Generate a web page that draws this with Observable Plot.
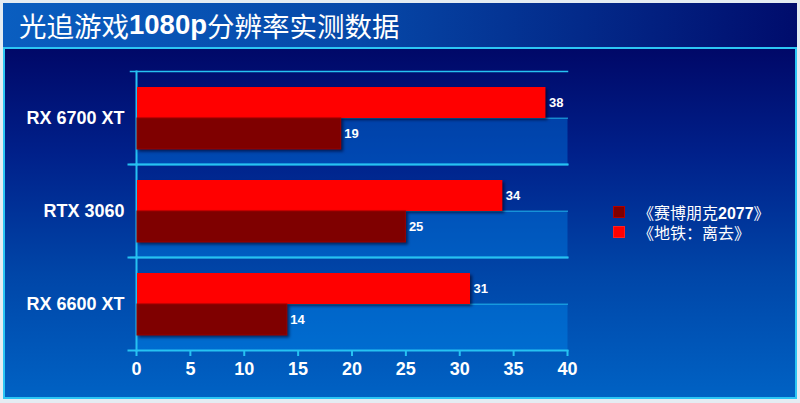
<!DOCTYPE html>
<html>
<head>
<meta charset="utf-8">
<script src="https://cdn.jsdelivr.net/npm/d3@7"></script>
<script src="https://cdn.jsdelivr.net/npm/@observablehq/plot@0.6"></script>
<style>
  html, body { margin: 0; padding: 0; background: #e4ecf2; }
  #wrap { position: relative; width: 800px; height: 403px; overflow: hidden; background: #e4ecf2; font-family: "Liberation Sans", "Noto Sans CJK SC", sans-serif; }
  #titlebar { position: absolute; left: 3px; top: 3px; width: 794px; height: 44px; background: linear-gradient(to right, #0a5ec0 0%, #0648a8 45%, #000c6c 100%); display: flex; align-items: center; box-sizing: border-box; padding-left: 16px; color: #fff; font-size: 27.5px; font-family: "Liberation Sans", "Noto Sans CJK SC", sans-serif; white-space: nowrap; }
  #titlebar b { font-weight: bold; }
  #panel { position: absolute; left: 3px; top: 47px; width: 794px; height: 352px; box-sizing: border-box; border: 2px solid #2cc6f4; background: linear-gradient(to bottom, #000868 0%, #00208a 30%, #0046a8 65%, #0062c4 100%); }
  #chart { position: absolute; left: 0; top: 48px; }
  #legend { position: absolute; left: 613px; top: 202px; color: #fff; font-size: 16px; font-family: "Liberation Sans", "Noto Sans CJK SC", sans-serif; }
  #legend .item { display: flex; align-items: center; height: 20px; }
  #legend .sw { width: 12px; height: 12px; margin-right: 13px; box-sizing: border-box; }
  #legend b { font-weight: bold; }
</style>
</head>
<body>
<div id="wrap">
  <div id="titlebar"></div>
  <div id="panel"></div>
  <div id="chart"></div>
  <div id="legend"></div>
</div>
<script>
// ---- data ----
const title = "光追游戏1080p分辨率实测数据";
const gpus = ["RX 6700 XT", "RTX 3060", "RX 6600 XT"];
const games = ["《地铁：离去》", "《赛博朋克2077》"];   // bar order within a group (top, bottom)
const gameColors = ["#ff0000", "#7f0000"];
const metroFps = [38, 34, 31];
const cyberFps = [19, 25, 14];
const legendOrder = ["《赛博朋克2077》", "《地铁：离去》"];
const xTicks = [0, 5, 10, 15, 20, 25, 30, 35, 40];

// ---- table ----
const rows = [];
gpus.forEach((g, i) => {
  rows.push({gpu: g, game: games[0], value: metroFps[i]});
  rows.push({gpu: g, game: games[1], value: cyberFps[i]});
});

// bold latin/digits helper
function richText(s) {
  return s.split(/([0-9A-Za-z]+)/).map(p => /^[0-9A-Za-z]+$/.test(p) ? `<b>${p}</b>` : p).join("");
}

document.getElementById("titlebar").innerHTML = richText(title);

const legend = document.getElementById("legend");
legendOrder.forEach(name => {
  const c = gameColors[games.indexOf(name)];
  const item = document.createElement("div");
  item.className = "item";
  item.innerHTML = `<div class="sw" style="background:${c};border:1.5px solid ${c === '#7f0000' ? '#b00000' : '#ff2020'}"></div><span>${richText(name)}</span>`;
  legend.appendChild(item);
});

// ---- layout ----
const W = 600, H = 340, mT = 22, mB = 38, mL = 136, mR = 33;
const bandH = (H - mT - mB) / gpus.length;
const cyan = "#26c2f2";

const chart = Plot.plot({
  width: W, height: H,
  marginTop: mT, marginBottom: mB, marginLeft: mL, marginRight: mR,
  style: {background: "transparent", fontFamily: "Liberation Sans, Arial, sans-serif", color: "white", overflow: "visible"},
  x: {domain: [xTicks[0], xTicks[xTicks.length - 1]], axis: null},
  y: {domain: games, paddingInner: 0, paddingOuter: 0.5, axis: null},
  fy: {domain: gpus, padding: 0, axis: null},
  color: {domain: games, range: gameColors},
  marks: [
    // lighter lower half of each band
    Plot.frame({fill: "#0099ff", fillOpacity: 0.33, stroke: "none", insetTop: bandH / 2}),
    // band boundary gridlines (+ left ticks)
    Plot.frame({anchor: "top", stroke: cyan, strokeWidth: 1.5, insetLeft: -6}),
    // middle gridline
    Plot.frame({anchor: "top", stroke: cyan, strokeWidth: 1, strokeOpacity: 0.9, insetTop: bandH / 2}),
    // y axis line
    Plot.frame({anchor: "left", stroke: cyan, strokeWidth: 2}),
    // x axis line
    Plot.frame({anchor: "bottom", stroke: cyan, strokeWidth: 2, insetLeft: -8}),
    Plot.barX(rows, {fy: "gpu", y: "game", x: "value", fill: "game", insetLeft: 1}),
    Plot.text(rows, {fy: "gpu", y: "game", x: "value", text: d => String(d.value), dx: 3, textAnchor: "start", fill: "white", fontSize: 13, fontWeight: "bold"}),
    Plot.axisX({ticks: xTicks, tickSize: 6, tickPadding: 6, stroke: cyan, strokeWidth: 2, color: "white", fontSize: 18, fontWeight: "bold", label: null}),
    Plot.axisFy({anchor: "left", tickSize: 0, tickPadding: 12, color: "white", fontSize: 18, fontWeight: "bold", label: null})
  ]
});

chart.querySelectorAll('g[aria-label="bar"] rect').forEach(r => {
  r.style.filter = "drop-shadow(2px 2px 1.5px rgba(0,0,30,0.6))";
  if (r.getAttribute("fill") === "#7f0000") { r.setAttribute("stroke", "#9a0000"); r.setAttribute("stroke-width", "1"); }
});

document.getElementById("chart").appendChild(chart);
</script>
</body>
</html>
